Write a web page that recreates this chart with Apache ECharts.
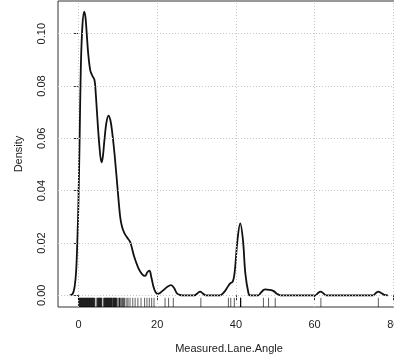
<!DOCTYPE html>
<html>
<head>
	<meta charset="UTF-8">
	<title>Density</title>
	<script src="https://cdn.jsdelivr.net/npm/echarts@6/dist/echarts.min.js"></script>
	<style>
		html, body { margin:0; padding:0; background:#fff; }
		#chart { width:394px; height:360px; }
	</style>
</head>
<body>
<div id="chart"></div>

<script type="text/javascript">
	// density curve
	var densX = [-2.2, -1.5, -1.0, -0.6, -0.3, 0.0, 0.3, 0.6, 1.0, 1.45, 1.8, 2.1, 2.5, 3.0, 3.5, 4.07, 4.4, 4.67, 5.26, 5.85,
		6.2, 6.6, 7.1, 7.63, 8.1, 8.5, 9.15, 9.9, 10.6, 11.1, 11.7, 12.4, 13.1, 13.6, 14.15, 15.25, 16.2, 16.95, 17.5, 18.05,
		18.5, 19.06, 19.6, 20.2, 20.8, 21.6, 22.6, 23.55, 24.3, 25.0, 25.7, 26.5, 29.5, 30.2, 30.9, 31.6, 32.4, 36.0, 36.4, 37.0,
		37.7, 38.55, 39.2, 39.7, 40.4, 41.1, 41.8, 42.4, 43.2, 43.6, 45.7, 46.3, 47.0, 47.45, 48.5, 49.6, 50.4, 51.3, 60.2, 60.8,
		61.5, 62.2, 62.9, 74.9, 75.5, 76.2, 76.9, 77.7, 78.6];
	var densY = [0, 0.0005, 0.003, 0.009, 0.02, 0.036, 0.06, 0.087, 0.103, 0.1084, 0.106, 0.100, 0.092, 0.086, 0.084, 0.0823, 0.077, 0.0708, 0.0582, 0.0508,
		0.053, 0.0594, 0.066, 0.0687, 0.067, 0.0632, 0.0543, 0.0415, 0.030, 0.026, 0.0237, 0.022, 0.0205, 0.018, 0.0148, 0.0103, 0.008, 0.0074, 0.0088, 0.0094,
		0.007, 0.0033, 0.0012, 0.0005, 0.001, 0.002, 0.0033, 0.0039, 0.0028, 0.0008, 0.0002, 0, 0, 0.0007, 0.0014, 0.0007, 0, 0, 0.0003, 0.0012,
		0.0027, 0.0046, 0.0052, 0.009, 0.0211, 0.0275, 0.0211, 0.0084, 0.0008, 0, 0, 0.0009, 0.002, 0.0023, 0.0021, 0.0016, 0.0006, 0, 0, 0.0008,
		0.0014, 0.0008, 0, 0, 0.0008, 0.0014, 0.0009, 0.0002, 0];

	// rug (raw observations)
	var rugValues = [
		0.0, 0.1, 0.2, 0.3, 0.4, 0.5, 0.6, 0.7, 0.8, 0.9, 1.0, 1.1, 1.2, 1.3, 1.4, 1.5, 1.6, 1.7, 1.8, 1.9, 2.0,
		2.1, 2.2, 2.3, 2.4, 2.5, 2.6, 2.7, 2.8, 2.9, 3.0, 3.1, 3.2, 3.3, 3.4, 3.5, 3.6, 3.7, 3.8, 3.9, 4.0, 4.1,
		4.5, 4.8, 4.9, 5.0, 5.1, 5.2, 5.3, 5.4, 5.5, 5.6, 5.7, 5.8, 5.9,
		6.3, 6.5, 6.6, 6.7, 6.8, 6.9, 7.0, 7.1, 7.2, 7.3, 7.4, 7.5, 7.6, 7.7, 7.8, 7.9, 8.0, 8.1, 8.2, 8.3, 8.4, 8.5,
		8.6, 8.8, 8.9, 9.0, 9.1, 9.2, 9.3, 9.4, 9.5, 9.6, 9.7, 10.0, 10.3, 10.4, 10.5, 10.6, 10.9,
		11.2, 11.4, 11.6, 11.8, 12.3, 12.6, 13.1, 13.8, 14.4, 15.1, 15.9, 16.8, 17.4, 18.0, 18.6, 19.2,
		22.0, 22.9, 24.1, 31.1, 38.1, 38.7, 39.6, 41.2, 41.2, 41.2, 41.2,
		47.0, 48.3, 50.0, 61.6, 76.2];

	var xTicks = [0, 20, 40, 60, 80];
	var yTicks = [0, 0.02, 0.04, 0.06, 0.08, 0.10];

	var X_MIN = -5.2, X_MAX = 81.7;
	var Y_MIN = -0.00447, Y_MAX = 0.1125;
	var FONT = "'Liberation Sans', Arial, sans-serif";

	var chart = echarts.init(document.getElementById('chart'));

	var curve = [];
	for (var i = 0; i < densX.length; i++) curve.push([densX[i], densY[i]]);

	var gridLines = [];
	xTicks.forEach(function(v){ gridLines.push({xAxis: v}); });
	yTicks.forEach(function(v){ gridLines.push({yAxis: v}); });

	var option =
	{
		animation: false,
		grid: {
			left: 58, top: 1, width: 342, height: 306,
			outerBoundsMode: 'none', containLabel: false,
			show: true, borderColor: '#333', borderWidth: 1, backgroundColor: 'transparent'
		},
		xAxis: {
			type: 'value', min: X_MIN, max: X_MAX,
			name: 'Measured.Lane.Angle', nameLocation: 'middle', nameGap: 36,
			nameTextStyle: {fontFamily: FONT, fontSize: 11, color: '#222'},
			axisLine: {show: false},
			splitLine: {show: false},
			axisTick: {show: true, length: 5, customValues: xTicks, lineStyle: {color: '#333'}},
			axisLabel: {customValues: xTicks, margin: 12, fontFamily: FONT, fontSize: 11, color: '#222'}
		},
		yAxis: {
			type: 'value', min: Y_MIN, max: Y_MAX,
			name: 'Density', nameLocation: 'middle', nameGap: 34,
			nameTextStyle: {fontFamily: FONT, fontSize: 11, color: '#222'},
			axisLine: {show: false},
			splitLine: {show: false},
			axisTick: {show: true, length: 5, customValues: yTicks, lineStyle: {color: '#333'}},
			axisLabel: {customValues: yTicks, rotate: 90, margin: 11, fontFamily: FONT, fontSize: 11, color: '#222',
				formatter: function(v){ return v.toFixed(2); }}
		},
		series: [
			{
				type: 'line', data: [], silent: true, z: 1,
				markLine: {
					silent: true, symbol: 'none', animation: false,
					label: {show: false},
					lineStyle: {color: '#c8c8c8', type: [1, 2], width: 1},
					data: gridLines
				}
			},
			{
				type: 'custom', z: 3,
				data: rugValues.map(function(v){ return [v, 0]; }),
				encode: {x: 0, y: 1},
				renderItem: function(params, api)
				{
					var p = api.coord([api.value(0), Y_MIN]);
					var h = params.coordSys.height * 0.03;
					return {
						type: 'line',
						shape: {x1: p[0], y1: p[1], x2: p[0], y2: p[1] - h},
						style: {stroke: '#000', lineWidth: 0.8, opacity: 0.8}
					};
				}
			},
			{
				type: 'line', data: curve, z: 4,
				showSymbol: false, smooth: 0.35,
				lineStyle: {color: '#111', width: 1.8}
			}
		]
	};
	chart.setOption(option);
</script>
</body>
</html>
